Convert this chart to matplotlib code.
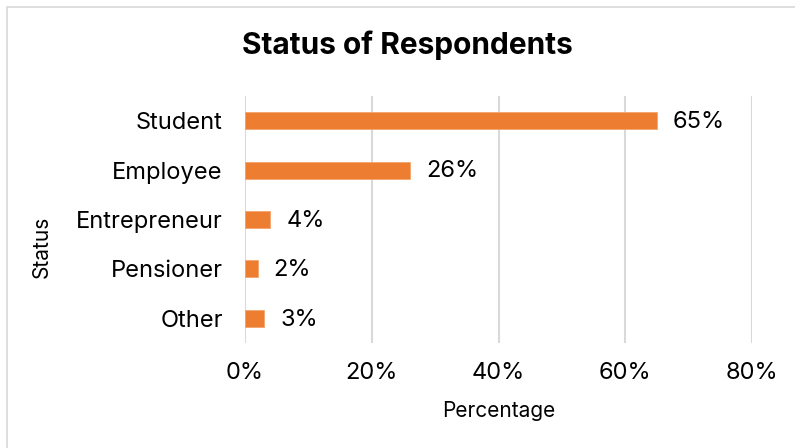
import matplotlib.pyplot as plt
from matplotlib.patches import Rectangle

plt.rcParams['font.family'] = ['Inter', 'DejaVu Sans']

categories = ["Student", "Employee", "Entrepreneur", "Pensioner", "Other"]
percentages = [65, 26, 4, 2, 3]
x_ticks = [0, 20, 40, 60, 80]

bar_color = "#ED7D31"

fig = plt.figure(figsize=(7.95, 4.48), dpi=100)
ax = fig.add_axes([0.3082, 0.2344, 0.6377, 0.5513])

# outer frame (only top and left edges show in the reference)
fig.patches.append(Rectangle((7 / 795, -0.1), 1.2, (441 + 45) / 448, transform=fig.transFigure,
                             fill=False, edgecolor="#d9d9d9", linewidth=1.2))

y_pos = list(range(len(categories)))[::-1]
bars = ax.barh(y_pos, percentages, height=0.345, color=bar_color,
               edgecolor="#F4A46E", linewidth=0.6, zorder=3)

for b, v in zip(bars, percentages):
    ax.annotate(f"{v}%", (b.get_width(), b.get_y() + b.get_height() / 2),
                xytext=(11.5, -1), textcoords="offset points",
                ha="left", va="center", fontsize=17, color="#000000")

ax.set_xlim(0, 80)
ax.set_ylim(-0.5, len(categories) - 0.5)
ax.set_xticks(x_ticks)
ax.set_xticklabels([f"{t}%" for t in x_ticks])
ax.set_yticks(y_pos)
ax.set_yticklabels(categories)
ax.tick_params(axis="both", length=0, labelsize=17)
ax.tick_params(axis="x", pad=14)
ax.tick_params(axis="y", pad=16)

ax.grid(axis="x", color="#d9d9d9", linewidth=1.5, zorder=0)
for s in ax.spines.values():
    s.set_visible(False)

ax.set_xlabel("Percentage", fontsize=15, labelpad=12)
ax.set_ylabel("Status", fontsize=15)
ax.yaxis.set_label_coords(-0.381, 0.39)
fig.text(0.512, 0.898, "Status of Respondents", ha="center", va="center",
         fontsize=21.5, fontweight="bold")

fig.savefig("out.png", dpi=100)
